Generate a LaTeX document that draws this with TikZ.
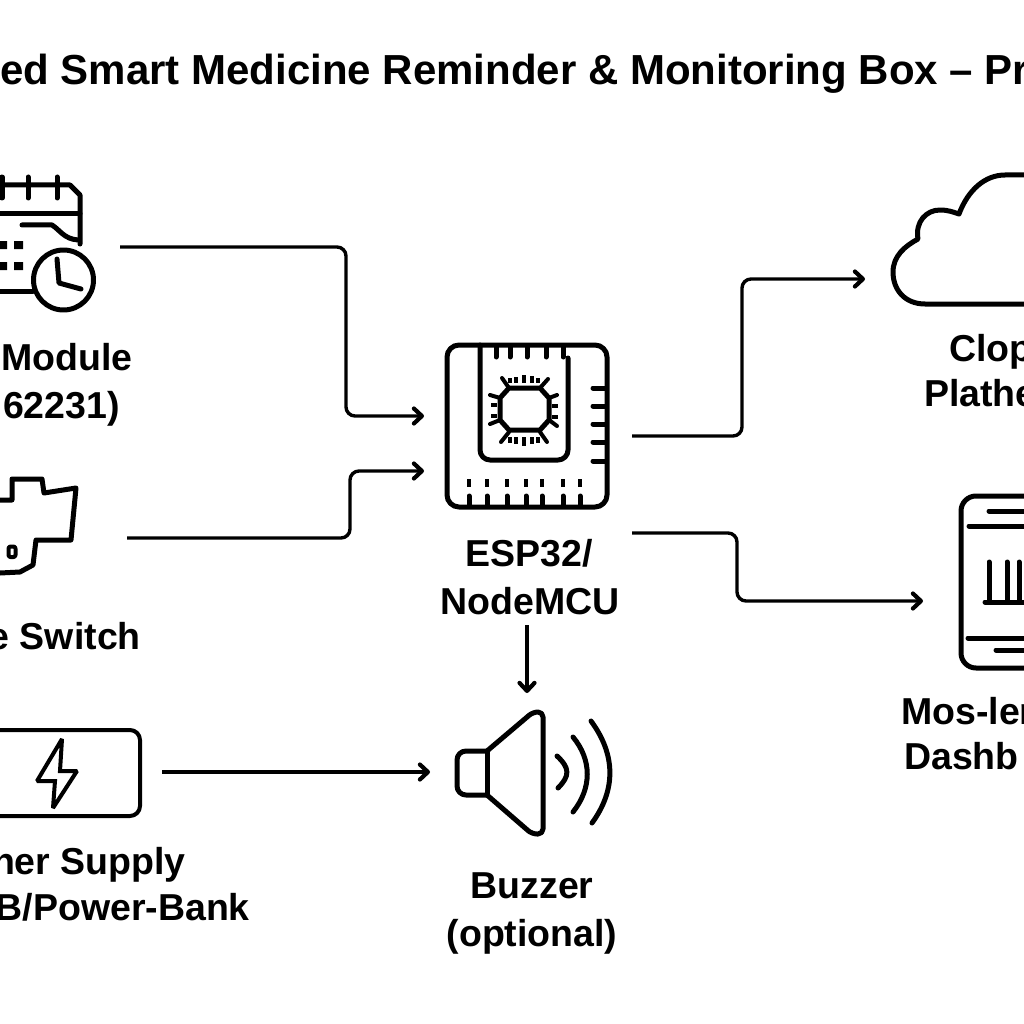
\documentclass[tikz,border=0pt]{standalone}
\usepackage{fontspec}
\setmainfont{Liberation Sans}
\usetikzlibrary{arrows.meta}
\tikzset{
  conn/.style={line width=3.4pt,rounded corners=9pt,-{Straight Barb[length=8pt,width=15pt,line width=4.2pt,round]}},
  icon/.style={line width=5pt,line cap=round,line join=round},
  thin icon/.style={line width=4pt,line cap=round,line join=round},
  lab/.style={font=\fontsize{37.5}{37.5}\selectfont\bfseries,anchor=base,inner sep=0pt,black},
  labw/.style={lab,anchor=base west},
  labe/.style={lab,anchor=base east},
  ttl/.style={font=\fontsize{42}{42}\selectfont\bfseries,anchor=base,inner sep=0pt,black}
}
\begin{document}
\begin{tikzpicture}[x=1pt,y=-1pt]
\useasboundingbox (0,0) rectangle (1024,1024);
\clip (0,0) rectangle (1024,1024);
\fill[white] (0,0) rectangle (1024,1024);
% title
\node[ttl,anchor=base west] (title) at (0,85) {ed Smart Medicine Reminder \& Monitoring Box – Pr};
% calendar icon
\begin{scope}[icon]
\draw (0,185) -- (70,185) -- (80,195) -- (80,244);
\draw (2,177) -- (2,198) (28,177) -- (28,198) (57,177) -- (57,198);
\draw (0,214) -- (80,214);
\draw (22,225) -- (52,225) .. controls (60,230) and (64,239) .. (78,240);
\draw (0,291) -- (33,291);
\draw (63.5,280) circle (30);
\draw (57,259) -- (59,283) -- (81,289);
\end{scope}
\fill (0,241) rectangle (7,249) (14,241) rectangle (23,249) (0,262) rectangle (7,270) (14,262) rectangle (23,270);
\node[labe] (rtc1) at (133,370) {Module};
\node[labe] (rtc2) at (120,418) {62231)};
% switch icon
\draw[icon] (0,500) -- (12,500) -- (12,479) -- (42,479) -- (44,493) -- (76,488) -- (71,540) -- (36,540) -- (33,565) -- (20,572) -- (0,573);
\draw[icon,line width=4pt,rounded corners=2pt] (8.5,546.5) rectangle (15.5,557);
\node[labe] (sw) at (141,649) {e Switch};
% battery
\draw[icon,line width=4pt,rounded corners=10pt] (-20,730) -- (140,730) -- (140,816) -- (-20,816);
\draw[thin icon,line join=miter,miter limit=2] (62,739) -- (37,781) -- (55,781) -- (53,808) -- (77,771) -- (60,771) -- cycle;
\node[labe] (ps1) at (186,874) {ner Supply};
\node[labe] (ps2) at (250,920) {B/Power-Bank};
% MCU
\begin{scope}[icon]
\draw[rounded corners=12pt] (447,345) rectangle (607,507);
\draw[rounded corners=10pt] (480,345) -- (480,460) -- (568,460) -- (568,358);
\foreach \x in {496,510,527,546,563} \draw (\x,346) -- (\x,357);
\foreach \y in {388,406,424,442,461} \draw (593,\y) -- (606,\y);
\foreach \x in {469,487,507,526,542,563,580} {\draw (\x,496) -- (\x,506); \draw[line cap=butt,line width=3.5pt] (\x,479) -- (\x,487);}
\draw (509,388) -- (540,388) -- (549,398) -- (549,420) -- (540,430) -- (509,430) -- (500,420) -- (500,398) -- cycle;
\draw[line width=4pt] (502,378) -- (509,388) (548,379) -- (540,388) (490,395) -- (500,398) (557,395) -- (549,398)
  (490,424) -- (500,420) (557,426) -- (549,420) (501,442) -- (509,432) (547,442) -- (540,432);
\draw[line width=4pt,line cap=butt] (510,378) -- (510,383) (516,377) -- (516,383) (524,375) -- (524,383) (532,376) -- (532,383) (538,378) -- (538,383)
  (510,437) -- (510,443) (516,437) -- (516,444) (524,437) -- (524,446) (532,437) -- (532,444) (538,437) -- (538,443)
  (491,405) -- (497,405) (491,416) -- (497,416) (552,406) -- (558,406) (552,417) -- (558,417);
\end{scope}
\node[lab] (mcu1) at (529,566) {ESP32/};
\node[lab] (mcu2) at (530,614) {NodeMCU};
% buzzer
\begin{scope}[icon]
\draw[rounded corners=9pt] (487,751) -- (457,751) -- (457,795) -- (487,795);
\draw (487,751) -- (487,795);
\draw[rounded corners=5pt] (487,751) -- (533,712) -- (543,712) -- (543,834) -- (532,834) -- (487,795);
\draw (557,756) .. controls (570,768) and (570,776) .. (558,788);
\draw (573,737) .. controls (592,760) and (592,788) .. (573,812);
\draw (591,721) .. controls (616,755) and (616,790) .. (592,823);
\end{scope}
\node[lab] (bz1) at (532,898) {Buzzer};
\node[lab] (bz2) at (532,946) {(optional)};
% cloud
\draw[icon] (1030,304) -- (925,304) .. controls (905,304) and (893,290) .. (893,272)
  .. controls (893,256) and (905,246) .. (918,239)
  .. controls (915,222) and (926,210) .. (940,210)
  .. controls (948,210) and (953,212) .. (959,214)
  .. controls (968,190) and (985,175) .. (1005,175) -- (1030,175);
\node[labw] (cl1) at (949,361) {Clop};
\node[labw] (cl2) at (924,406) {Plathe};
% phone
\begin{scope}[icon]
\draw[rounded corners=15pt] (1040,496) -- (961,496) -- (961,668) -- (1040,668);
\draw (989,511) -- (1030,511) (969,526) -- (1030,526) (968,638) -- (1030,638) (996,650) -- (1030,650);
\draw (989,562) -- (989,602) (1007,562) -- (1007,602) (1019,562) -- (1019,602) (985,602) -- (1030,602);
\end{scope}
\node[labw] (ph1) at (901,724) {Mos-ler};
\node[labw] (ph2) at (904,769) {Dashb};
% named connector ends
\coordinate (rtcout) at (120,247);
\coordinate (mcuin1) at (424,416);
\coordinate (swout) at (127,538);
\coordinate (mcuin2) at (424,471);
\coordinate (batout) at (162,772);
\coordinate (bzin) at (430,772);
\coordinate (mcuout1) at (632,436);
\coordinate (cloudin) at (865,279);
\coordinate (mcuout2) at (632,533);
\coordinate (phonein) at (923,601);
\coordinate (mcuout3) at (527,625);
\coordinate (bztop) at (527,693);
\draw[conn] (rtcout) -- (346,247) -- (346,416) -- (mcuin1);
\draw[conn] (swout) -- (350,538) -- (350,471) -- (mcuin2);
\draw[conn] (batout) -- (bzin);
\draw[conn] (mcuout1) -- (742,436) -- (742,279) -- (cloudin);
\draw[conn] (mcuout2) -- (737,533) -- (737,601) -- (phonein);
\draw[conn] (mcuout3) -- (bztop);
\end{tikzpicture}
\end{document}
